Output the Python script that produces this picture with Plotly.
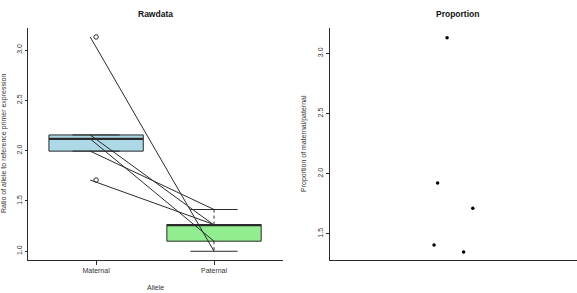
import math
import plotly.graph_objects as go

# ---- data ----
categories = ["Maternal", "Paternal"]
maternal = [3.13, 2.117, 2.156, 1.995, 1.708]
paternal = [1.00, 1.10, 1.26, 1.415, 1.265]
proportion = [3.13, 1.923, 1.714, 1.407, 1.35]
prop_jitter = [0.459, 0.422, 0.560, 0.408, 0.524]
y_ticks_left = [1.0, 1.5, 2.0, 2.5, 3.0]
y_ticks_right = [1.5, 2.0, 2.5, 3.0]

W, H = 577, 293
EDGE = "#2b2b2b"
TXT = "#333333"
FONT = "Liberation Sans, Arial, sans-serif"


def fivenum(v):
    x = sorted(v)
    n = len(x)
    n4 = math.floor((n + 3) / 2) / 2
    d = [1, n4, (n + 1) / 2, n + 1 - n4, n]
    return [0.5 * (x[math.floor(di - 1)] + x[math.ceil(di - 1)]) for di in d]


def box_stats(v):
    f = fivenum(v)
    q1, med, q3 = f[1], f[2], f[3]
    iqr = q3 - q1
    lo_f, hi_f = q1 - 1.5 * iqr, q3 + 1.5 * iqr
    inside = [a for a in v if lo_f <= a <= hi_f]
    out = [a for a in v if a < lo_f or a > hi_f]
    return q1, med, q3, min(inside), max(inside), out


fig = go.Figure()
fills = ["#add8e6", "#90ee90"]
half = 0.4
cap = 0.2
for i, (vals, col) in enumerate(zip([maternal, paternal], fills)):
    pos = i + 1
    q1, med, q3, wlo, whi, out = box_stats(vals)
    fig.add_trace(go.Scatter(
        x=[pos - half, pos + half, pos + half, pos - half, pos - half],
        y=[q1, q1, q3, q3, q1], mode="lines", fill="toself",
        fillcolor=col, line=dict(color=EDGE, width=1),
        hoverinfo="skip", showlegend=False, xaxis="x", yaxis="y"))
    fig.add_trace(go.Scatter(
        x=[pos - half, pos + half], y=[med, med], mode="lines",
        line=dict(color=EDGE, width=2.2), showlegend=False,
        hoverinfo="skip", xaxis="x", yaxis="y"))
    fig.add_trace(go.Scatter(
        x=[pos, pos, None, pos, pos], y=[q3, whi, None, q1, wlo],
        mode="lines", line=dict(color=EDGE, width=1, dash="dot"),
        showlegend=False, hoverinfo="skip", xaxis="x", yaxis="y"))
    fig.add_trace(go.Scatter(
        x=[pos - cap, pos + cap, None, pos - cap, pos + cap],
        y=[whi, whi, None, wlo, wlo], mode="lines",
        line=dict(color=EDGE, width=1), showlegend=False,
        hoverinfo="skip", xaxis="x", yaxis="y"))
    if out:
        fig.add_trace(go.Scatter(
            x=[pos] * len(out), y=out, mode="markers",
            marker=dict(symbol="circle-open", size=4.5, color=EDGE,
                        line=dict(color=EDGE, width=1)),
            showlegend=False, hoverinfo="skip", xaxis="x", yaxis="y"))

for m, p in zip(maternal, paternal):
    fig.add_trace(go.Scatter(
        x=[0.95, 2.0], y=[m, p], mode="lines",
        line=dict(color=EDGE, width=1), showlegend=False,
        hoverinfo="skip", xaxis="x", yaxis="y"))

fig.add_trace(go.Scatter(
    x=prop_jitter, y=proportion, mode="markers",
    marker=dict(color="black", size=3.5), showlegend=False,
    hoverinfo="skip", xaxis="x2", yaxis="y2"))

ydom = [1 - 260 / H, 1 - 28 / H]
axis_common = dict(showline=True, linecolor=EDGE, linewidth=1,
                   showgrid=False, zeroline=False,
                   tickfont=dict(family=FONT, size=7, color=TXT))

fig.update_layout(
    width=W, height=H,
    margin=dict(l=0, r=0, t=0, b=0),
    paper_bgcolor="white", plot_bgcolor="white",
    font=dict(family=FONT, color=TXT),
    xaxis=dict(domain=[27.7 / W, 283 / W], range=[0.42, 2.585],
               tickvals=[1, 2], ticktext=categories, ticks="outside",
               ticklen=4, tickcolor=EDGE, anchor="y", **axis_common),
    yaxis=dict(domain=ydom, range=[0.913, 3.219], tickvals=y_ticks_left,
               ticktext=[f"{v:.1f}" for v in y_ticks_left],
               ticks="outside", ticklen=2, tickcolor=EDGE, tickangle=-90,
               anchor="x", **axis_common),
    xaxis2=dict(domain=[330 / W, 1.0], range=[0, (W - 330) / 255],
                showticklabels=False, ticks="", anchor="y2", **axis_common),
    yaxis2=dict(domain=ydom, range=[1.283, 3.211], tickvals=y_ticks_right,
                ticktext=[f"{v:.1f}" for v in y_ticks_right],
                ticks="outside", ticklen=3, tickcolor=EDGE, tickangle=-90,
                anchor="x2", **axis_common),
)

ann = dict(xref="paper", yref="paper", showarrow=False,
           xanchor="center", yanchor="middle")
fig.add_annotation(text="<b>Rawdata</b>", x=155 / W, y=1 - 13.5 / H,
                   font=dict(family=FONT, size=8.5, color="#111"), **ann)
fig.add_annotation(text="<b>Proportion</b>", x=457 / W, y=1 - 13.5 / H,
                   font=dict(family=FONT, size=8.5, color="#111"), **ann)
fig.add_annotation(text="Allele", x=155 / W, y=1 - 287 / H,
                   font=dict(family=FONT, size=7, color=TXT), **ann)
fig.add_annotation(text="Ratio of allele to reference primer expression",
                   x=4 / W, y=1 - 144 / H, textangle=-90,
                   font=dict(family=FONT, size=7, color=TXT), **ann)
fig.add_annotation(text="Proportion of maternal/paternal",
                   x=304 / W, y=1 - 144 / H, textangle=-90,
                   font=dict(family=FONT, size=7, color=TXT), **ann)

fig.write_html("out.html")
